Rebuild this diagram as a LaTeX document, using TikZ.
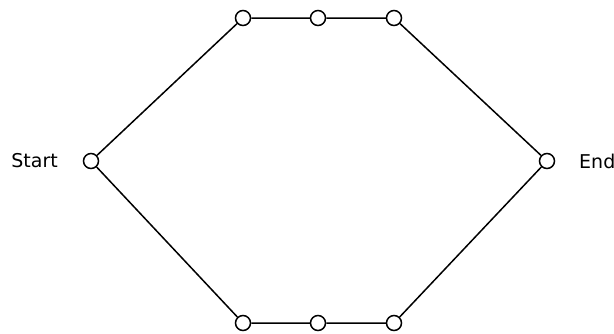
\documentclass[tikz,border=0pt]{standalone}
\usepackage{fontspec}
\setmainfont{DejaVu Sans}
\begin{document}
\begin{tikzpicture}[x=1pt,y=-1pt,
  pt/.style={circle,draw,line width=1.5pt,minimum size=15pt,inner sep=0pt,fill=white},
  lbl/.style={font=\fontsize{19}{21}\selectfont,inner sep=0pt},
  edge/.style={line width=1.5pt}]
\useasboundingbox (0,0) rectangle (614,333);
\node[pt] (s) at (91,161) {};
\node[pt] (t1) at (243,18) {};
\node[pt] (t2) at (318,18) {};
\node[pt] (t3) at (394,18) {};
\node[pt] (e) at (547,161) {};
\node[pt] (b1) at (243,323) {};
\node[pt] (b2) at (318,323) {};
\node[pt] (b3) at (394,323) {};
\node[lbl,anchor=east] (ls) at (58,161) {Start};
\node[lbl,anchor=west] (le) at (579,161) {End};
\draw[edge] (s) -- (t1) -- (t2) -- (t3) -- (e);
\draw[edge] (s) -- (b1) -- (b2) -- (b3) -- (e);
\end{tikzpicture}
\end{document}
